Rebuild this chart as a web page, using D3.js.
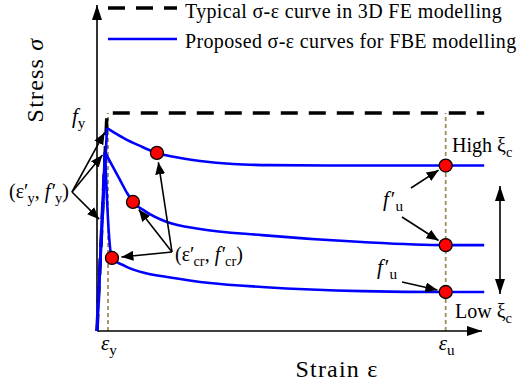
<!DOCTYPE html>
<html>
<head>
<meta charset="utf-8">
<script src="https://cdn.jsdelivr.net/npm/d3@7"></script>
<style>
  html, body { margin: 0; padding: 0; background: #fff; }
  svg { display: block; }
</style>
</head>
<body>
<svg id="chart" width="524" height="389"></svg>
<script>
// Normalised strain (multiples of the yield-strain unit) and stress (fraction of fy)
const feStrain   = [0, 0.91, 35.2];
const feStress   = [0, 1, 1];

const highStrain = [0, 0.91, 1.64, 2.55, 3.91, 5.45, 7.09, 9.36, 12.36, 15.73, 23.0, 31.7, 35.2];
const highStress = [0, 0.931, 0.908, 0.881, 0.849, 0.817, 0.798, 0.780, 0.766, 0.761, 0.759, 0.759, 0.759];

const midStrain  = [0, 0.73, 1.36, 2.09, 2.73, 3.27, 4.36, 6.36, 9.36, 15.0, 24.1, 31.7, 35.2];
const midStress  = [0, 0.821, 0.761, 0.693, 0.633, 0.592, 0.550, 0.500, 0.468, 0.440, 0.408, 0.394, 0.394];

const lowStrain  = [0, 0.73, 0.91, 1.09, 1.36, 2.55, 4.36, 6.36, 10.27, 15.0, 24.1, 31.7, 35.2];
const lowStress  = [0, 0.821, 0.601, 0.440, 0.335, 0.298, 0.266, 0.248, 0.220, 0.202, 0.183, 0.179, 0.179];

// cracking points (ε'cr, f'cr) and ultimate points (εu, f'u)
const crackStrain = [5.45, 3.27, 1.36];
const crackStress = [0.817, 0.592, 0.335];
const ultStrain   = [31.7, 31.7, 31.7];
const ultStress   = [0.759, 0.394, 0.179];

// reference strains marked on the strain axis
const tickNames   = ["y", "u"];
const tickStrain  = [1, 31.7];

const legendLabels = ["Typical σ-ε curve in 3D FE modelling", "Proposed σ-ε curves for FBE modelling"];

const svg = d3.select("#chart");
const x = d3.scaleLinear().domain([0, 35]).range([97, 482]);
const y = d3.scaleLinear().domain([0, 1]).range([331, 113]);

const serif = "'Liberation Serif', 'Times New Roman', serif";
const blue = "#0000ff";
const tan = "#9e8f5e";

// arrowhead markers
const defs = svg.append("defs");
function marker(id, len, wid) {
  defs.append("marker")
    .attr("id", id).attr("markerUnits", "userSpaceOnUse")
    .attr("markerWidth", len).attr("markerHeight", wid)
    .attr("refX", len).attr("refY", wid / 2).attr("orient", "auto")
    .append("path").attr("d", `M0,0L${len},${wid / 2}L0,${wid}Z`).attr("fill", "#000");
}
marker("axisHead", 15, 10);
marker("noteHead", 12, 10);

const pts = (xs, ys) => xs.map((v, i) => [x(v), y(ys[i])]);

// guide lines at εy and εu
svg.append("g").selectAll("line").data(tickStrain).join("line")
  .attr("x1", d => x(d)).attr("x2", d => x(d))
  .attr("y1", y(0)).attr("y2", y(1))
  .attr("stroke", tan).attr("stroke-width", 1.8).attr("stroke-dasharray", "4,3");

// axes
svg.append("line").attr("x1", x(0)).attr("y1", y(0)).attr("x2", x(0)).attr("y2", 5)
  .attr("stroke", "#000").attr("stroke-width", 1.6).attr("marker-end", "url(#axisHead)");
svg.append("line").attr("x1", x(0)).attr("y1", y(0)).attr("x2", x(35)).attr("y2", y(0))
  .attr("stroke", "#000").attr("stroke-width", 1.6).attr("marker-end", "url(#axisHead)");

// 3D FE curve
svg.append("path")
  .attr("d", d3.line()(pts(feStrain, feStress)))
  .attr("fill", "none").attr("stroke", "#000").attr("stroke-width", 3.5)
  .attr("stroke-dasharray", "17,11");

// proposed FBE curves: linear rise to peak, smooth softening afterwards
const soft = d3.line().curve(d3.curveMonotoneX);
[[highStrain, highStress], [midStrain, midStress], [lowStrain, lowStress]].forEach(([xs, ys]) => {
  const p = pts(xs, ys);
  svg.append("path").attr("d", d3.line()(p.slice(0, 2)))
    .attr("fill", "none").attr("stroke", blue).attr("stroke-width", 2.6);
  svg.append("path").attr("d", soft(p.slice(1)))
    .attr("fill", "none").attr("stroke", blue).attr("stroke-width", 2.6);
});

// annotation arrows
const R = 6.5;
function arrow(x0, y0, x1, y1, gap) {
  const dx = x1 - x0, dy = y1 - y0, L = Math.hypot(dx, dy);
  svg.append("line").attr("x1", x0).attr("y1", y0)
    .attr("x2", x1 - dx / L * gap).attr("y2", y1 - dy / L * gap)
    .attr("stroke", "#000").attr("stroke-width", 1.6).attr("marker-end", "url(#noteHead)");
}
// (ε'y, f'y) -> peaks and elastic branch
arrow(72, 192, x(highStrain[1]), y(highStress[1]), 5);
arrow(72, 192, x(midStrain[1]), y(midStress[1]), 4);
arrow(72, 192, x(0.45), y(0.5), 4);
// (ε'cr, f'cr) -> cracking points
crackStrain.forEach((e, i) => arrow(172, 252, x(e), y(crackStress[i]), R + 3));
// f'u -> ultimate points
arrow(411, 188, x(ultStrain[0]), y(ultStress[0]), R + 2);
arrow(402, 217, x(ultStrain[1]), y(ultStress[1]), R + 2);
arrow(402, 282, x(ultStrain[2]), y(ultStress[2]), R + 2);

// double arrow for confinement level
svg.append("line").attr("x1", 500).attr("x2", 500).attr("y1", 240).attr("y2", 186)
  .attr("stroke", "#000").attr("stroke-width", 1.6).attr("marker-end", "url(#axisHead)");
svg.append("line").attr("x1", 500).attr("x2", 500).attr("y1", 240).attr("y2", 294)
  .attr("stroke", "#000").attr("stroke-width", 1.6).attr("marker-end", "url(#axisHead)");

// marked points
function dots(xs, ys) {
  svg.append("g").selectAll("circle").data(xs).join("circle")
    .attr("cx", d => x(d)).attr("cy", (d, i) => y(ys[i])).attr("r", R)
    .attr("fill", "#ff0000").attr("stroke", "#000").attr("stroke-width", 1.3);
}
dots(crackStrain, crackStress);
dots(ultStrain, ultStress);

// rich text helper: parts of {t, it, sub, dx}
function rich(px, py, parts, size, anchor) {
  const t = svg.append("text").attr("x", px).attr("y", py)
    .attr("font-family", serif).attr("font-size", size).attr("text-anchor", anchor || "start");
  let shift = 0;
  parts.forEach(p => {
    const target = p.sub ? 5 : 0;
    const sp = t.append("tspan").text(p.t)
      .attr("font-style", p.it ? "italic" : "normal");
    if (target - shift) sp.attr("dy", target - shift);
    if (p.sub) sp.attr("font-size", size * 0.72);
    if (p.dx) sp.attr("dx", p.dx);
    shift = target;
  });
  return t;
}

// legend
svg.append("line").attr("x1", 108).attr("x2", 177).attr("y1", 8).attr("y2", 8)
  .attr("stroke", "#000").attr("stroke-width", 3.5).attr("stroke-dasharray", "17,11");
svg.append("line").attr("x1", 108).attr("x2", 177).attr("y1", 39).attr("y2", 39)
  .attr("stroke", blue).attr("stroke-width", 2.6);
svg.append("g").selectAll("text").data(legendLabels).join("text")
  .attr("x", 185).attr("y", (d, i) => 18 + i * 29.5)
  .attr("font-family", serif).attr("font-size", 20).attr("letter-spacing", 0.35)
  .text(d => d);

// axis titles
svg.append("text").attr("transform", "translate(43,80) rotate(-90)")
  .attr("text-anchor", "middle").attr("font-family", serif).attr("font-size", 24)
  .attr("letter-spacing", 1.2)
  .text("Stress ").append("tspan").attr("font-style", "italic").text("σ");
svg.append("text").attr("x", 337).attr("y", 377)
  .attr("text-anchor", "middle").attr("font-family", serif).attr("font-size", 24)
  .attr("letter-spacing", 1.2)
  .text("Strain ε");

// strain axis labels
tickStrain.forEach((e, i) => {
  rich(x(e) - 7, 350, [{t: "ε", it: true}, {t: tickNames[i], sub: true}], 21);
});

// stress label
rich(72, 123, [{t: "f", it: true}, {t: "y", sub: true}], 21);

// point labels
rich(9, 198, [{t: "(ε"}, {t: "′"}, {t: "y", sub: true, dx: -1}, {t: ", "}, {t: "f", it: true},
  {t: "′", dx: 1.5}, {t: "y", sub: true, dx: -1}, {t: ")"}], 20);
rich(175, 261, [{t: "(ε"}, {t: "′"}, {t: "cr", sub: true, dx: -1}, {t: ", "}, {t: "f", it: true},
  {t: "′", dx: 1.5}, {t: "cr", sub: true, dx: -1}, {t: ")"}], 20);
rich(383, 206, [{t: "f", it: true}, {t: "′", dx: 2}, {t: "u", sub: true}], 21);
rich(377, 274, [{t: "f", it: true}, {t: "′", dx: 2}, {t: "u", sub: true}], 21);

// confinement labels
rich(452, 152, [{t: "High ξ"}, {t: "c", sub: true}], 20);
rich(455, 318, [{t: "Low ξ"}, {t: "c", sub: true}], 20);
</script>
</body>
</html>
